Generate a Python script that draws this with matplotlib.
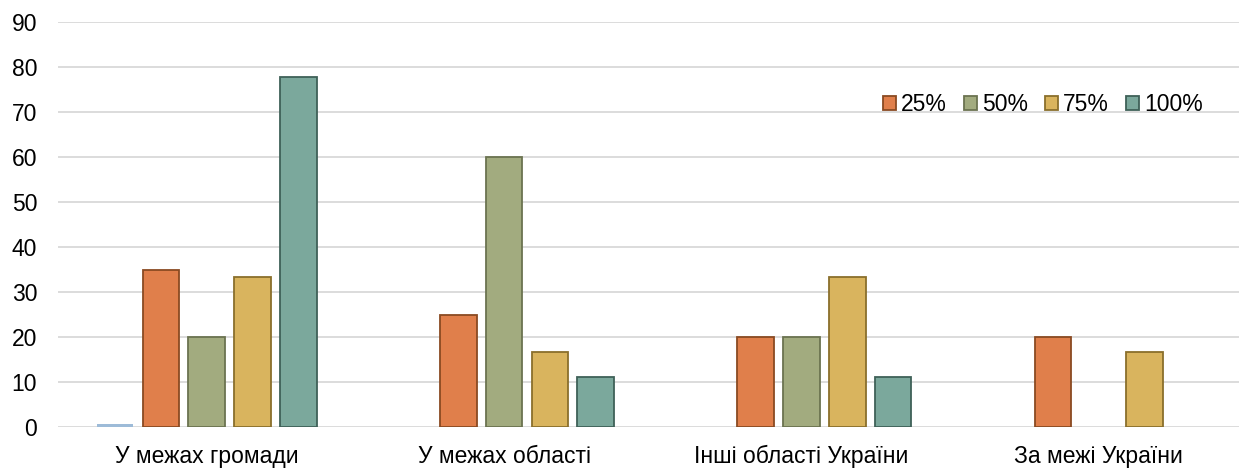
import numpy as np
import matplotlib.pyplot as plt

plt.rcParams['font.family'] = ['Liberation Sans', 'DejaVu Sans']

categories = ["У межах громади", "У межах області", "Інші області України", "За межі України"]
series_names = ["0%", "25%", "50%", "75%", "100%"]
v0 = [0.7, 0, 0, 0]
v25 = [35, 25, 20, 20]
v50 = [20, 60, 20, 0]
v75 = [33.3, 16.7, 33.3, 16.7]
v100 = [77.8, 11.1, 11.1, 0]
values = [v0, v25, v50, v75, v100]

fills = ["#9dbbd8", "#e07f4b", "#a2ab7f", "#d9b45e", "#7ba89c"]
edges = ["none", "#8a4a22", "#6b7350", "#8a6f2c", "#3f6158"]

fig = plt.figure(figsize=(12.39, 4.70), dpi=100)
# plot area runs a little past the right edge, as in the source
ax = fig.add_axes([58/1239, 43/470, 1189.5/1239, 405/470])

x = np.arange(len(categories))
step = 0.154
width = 0.123
for i, (vals, name) in enumerate(zip(values, series_names)):
    pos = x + (i - 2) * step
    # skip empty bars so no outline shows at zero
    h = [v if v > 0 else np.nan for v in vals]
    ax.bar(pos, h, width, color=fills[i],
           edgecolor=edges[i], linewidth=1.3 if i else 0,
           label=name if i else "_nolegend_", zorder=3)

ax.set_xlim(-0.5, len(categories) - 0.5)
ax.set_ylim(0, 90)
ax.set_yticks(np.arange(0, 91, 10))
ax.set_xticks(x)
ax.set_xticklabels(categories)
ax.tick_params(axis='both', length=0, labelsize=16.5, colors='black')
ax.tick_params(axis='y', pad=15)
ax.tick_params(axis='x', pad=13)
ax.grid(axis='y', color='#d9d9d9', linewidth=1.3, zorder=0)
for s in ax.spines.values():
    s.set_visible(False)

ax.legend(loc='center right', bbox_to_anchor=(1212/1239, 1 - 105/470),
          bbox_transform=fig.transFigure, ncol=4, frameon=False,
          fontsize=16.5, handlelength=0.57, handleheight=0.57,
          handletextpad=0.22, columnspacing=0.74, borderaxespad=0)

fig.savefig("out.png", dpi=100)
